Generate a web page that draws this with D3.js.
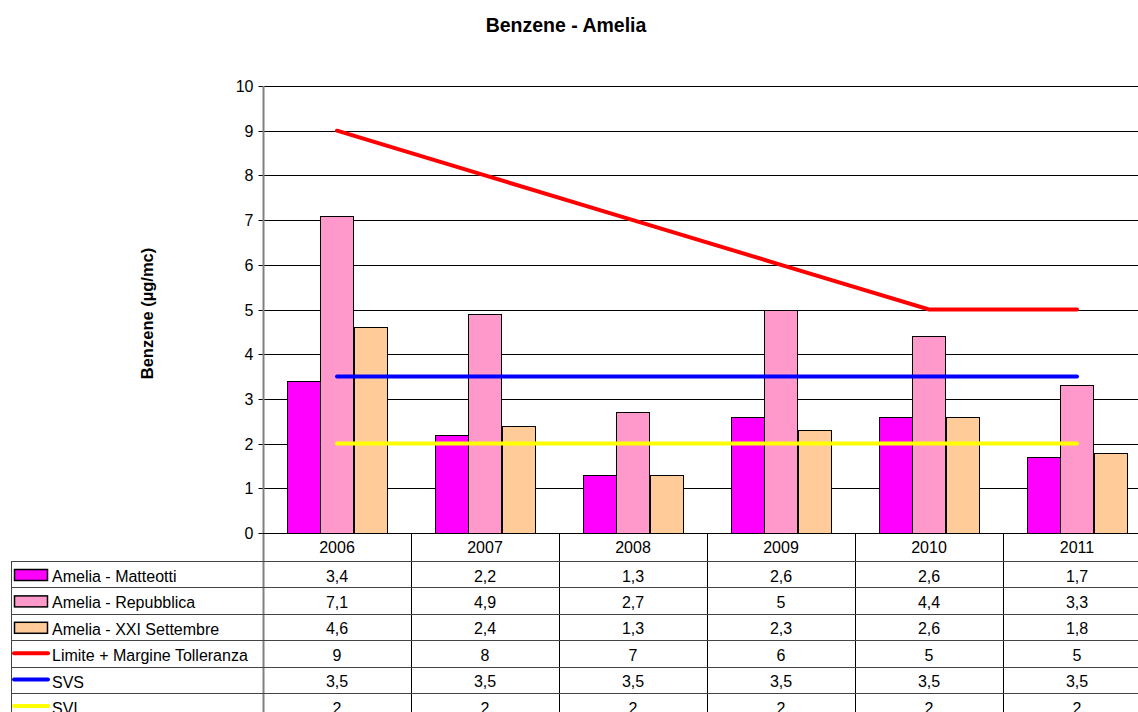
<!DOCTYPE html>
<meta charset="utf-8">
<style>
body { margin: 0; background: #fff; }
svg { font-family: "Liberation Sans", Arial, sans-serif; }
.tick text { font-size: 16px; fill: #000; }
</style>
<div id="chart"></div>
<script src="https://cdn.jsdelivr.net/npm/d3@7"></script>
<script>

var years = ["2006", "2007", "2008", "2009", "2010", "2011"];
var barSeries = ["Amelia - Matteotti", "Amelia - Repubblica", "Amelia - XXI Settembre"];
var matteotti = [3.4, 2.2, 1.3, 2.6, 2.6, 1.7];
var repubblica = [7.1, 4.9, 2.7, 5, 4.4, 3.3];
var settembre = [4.6, 2.4, 1.3, 2.3, 2.6, 1.8];
var lineSeries = ["Limite + Margine Tolleranza", "SVS", "SVI"];
var limite = [9, 8, 7, 6, 5, 5];
var svs = [3.5, 3.5, 3.5, 3.5, 3.5, 3.5];
var svi = [2, 2, 2, 2, 2, 2];
var yTicks = [0, 1, 2, 3, 4, 5, 6, 7, 8, 9, 10];

var barColors = ["#ff00ff", "#ff99cc", "#ffcc99"];
var lineColors = ["#ff0000", "#0000ff", "#ffff00"];

var rows = [
  {name: barSeries[0], values: matteotti, kind: "bar", color: barColors[0]},
  {name: barSeries[1], values: repubblica, kind: "bar", color: barColors[1]},
  {name: barSeries[2], values: settembre, kind: "bar", color: barColors[2]},
  {name: lineSeries[0], values: limite, kind: "line", color: lineColors[0]},
  {name: lineSeries[1], values: svs, kind: "line", color: lineColors[1]},
  {name: lineSeries[2], values: svi, kind: "line", color: lineColors[2]}
];

var W = 1138, H = 712;
var svg = d3.select("#chart").append("svg")
    .attr("width", W)
    .attr("height", H);

var pLeft = 263, pRight = 1151, pTop = 86, pBottom = 533;
var tableLeft = 11, headerH = 28, rowH = 26.4;

var x = d3.scaleBand().domain(years).range([pLeft, pRight]);
var x1 = d3.scaleBand().domain(barSeries).range([0, x.bandwidth()]).paddingOuter(0.74);
var y = d3.scaleLinear().domain([0, 10]).range([pBottom, pTop]);

// title
svg.append("text")
    .attr("x", 566).attr("y", 32)
    .attr("text-anchor", "middle")
    .style("font-weight", "bold").style("font-size", "19.5px")
    .text("Benzene - Amelia");

// y label
svg.append("text")
    .attr("transform", "translate(153," + ((pTop + pBottom) / 2 + 4) + ") rotate(-90)")
    .attr("text-anchor", "middle")
    .style("font-weight", "bold").style("font-size", "16.5px")
    .text("Benzene (\u00b5g/mc)");

// gridlines
svg.append("g").selectAll("line")
  .data(yTicks.slice(1))
  .enter().append("line")
    .attr("x1", pLeft).attr("x2", pRight)
    .attr("y1", function(d) { return Math.round(y(d)) + 0.5; })
    .attr("y2", function(d) { return Math.round(y(d)) + 0.5; })
    .attr("stroke", "#000").attr("stroke-width", 1);

// bars
var groups = svg.append("g").selectAll("g")
  .data(rows.filter(function(r) { return r.kind == "bar"; }))
  .enter().append("g")
    .attr("fill", function(d) { return d.color; });

groups.selectAll("rect")
  .data(function(d) { return d.values.map(function(v, i) { return {s: d.name, year: years[i], v: v}; }); })
  .enter().append("rect")
    .attr("x", function(d) { return Math.round(x(d.year) + x1(d.s)) + 0.5; })
    .attr("y", function(d) { return Math.round(y(d.v)) + 0.5; })
    .attr("width", Math.round(x1.bandwidth()))
    .attr("height", function(d) { return Math.round(y(0)) - Math.round(y(d.v)); })
    .attr("stroke", "#000").attr("stroke-width", 1);

// y axis
var yAxis = svg.append("g")
    .attr("transform", "translate(" + (pLeft + 0.5) + ",0)")
    .call(d3.axisLeft(y).tickValues(yTicks).tickSize(5).tickPadding(5).tickFormat(d3.format("d")));
yAxis.select(".domain").remove();
yAxis.selectAll(".tick line").attr("stroke", "#000");
yAxis.selectAll(".tick").attr("transform", function(d) { return "translate(0," + (Math.round(y(d)) + 0.5) + ")"; });
yAxis.selectAll(".tick text").style("font-family", "'Liberation Sans', Arial, sans-serif");

svg.append("line")
    .attr("x1", pLeft + 0.5).attr("x2", pLeft + 0.5)
    .attr("y1", pTop).attr("y2", H)
    .attr("stroke", "#808080").attr("stroke-width", 2);

// x axis baseline
svg.append("line")
    .attr("x1", pLeft).attr("x2", pRight)
    .attr("y1", pBottom + 0.5).attr("y2", pBottom + 0.5)
    .attr("stroke", "#000");

// lines
var line = d3.line()
    .x(function(d, i) { return x(years[i]) + x.bandwidth() / 2; })
    .y(function(d) { return y(d); });

svg.append("g").selectAll("path")
  .data(rows.filter(function(r) { return r.kind == "line"; }))
  .enter().append("path")
    .attr("d", function(d) { return line(d.values); })
    .attr("fill", "none")
    .attr("stroke", function(d) { return d.color; })
    .attr("stroke-width", 4)
    .attr("stroke-linecap", "round");

// data table
var table = svg.append("g");

// header cells
table.selectAll(".hdr")
  .data(years)
  .enter().append("text")
    .attr("x", function(d) { return x(d) + x.bandwidth() / 2; })
    .attr("y", pBottom + 20)
    .attr("text-anchor", "middle")
    .style("font-size", "16px")
    .text(function(d) { return d; });

// vertical lines
table.selectAll(".vline")
  .data(years.slice(1))
  .enter().append("line")
    .attr("x1", function(d) { return Math.round(x(d)) + 0.5; })
    .attr("x2", function(d) { return Math.round(x(d)) + 0.5; })
    .attr("y1", pBottom).attr("y2", H)
    .attr("stroke", "#000");

table.append("line")
    .attr("x1", tableLeft + 0.5).attr("x2", tableLeft + 0.5)
    .attr("y1", pBottom + headerH).attr("y2", H)
    .attr("stroke", "#444");

// horizontal lines
table.selectAll(".hline")
  .data(rows)
  .enter().append("line")
    .attr("x1", tableLeft).attr("x2", pRight)
    .attr("y1", function(d, i) { return Math.round(pBottom + headerH + i * rowH) + 0.5; })
    .attr("y2", function(d, i) { return Math.round(pBottom + headerH + i * rowH) + 0.5; })
    .attr("stroke", "#444");

var fmt = function(v) { return String(v).replace(".", ","); };

var row = table.selectAll(".row")
  .data(rows)
  .enter().append("g")
    .attr("transform", function(d, i) { return "translate(0," + (pBottom + headerH + i * rowH) + ")"; });

row.filter(function(d) { return d.kind == "bar"; })
  .append("rect")
    .attr("x", 14.5).attr("y", 8.5)
    .attr("width", 33).attr("height", 11)
    .attr("fill", function(d) { return d.color; })
    .attr("stroke", "#000").attr("stroke-width", 1.5);

row.filter(function(d) { return d.kind == "line"; })
  .append("line")
    .attr("x1", 14).attr("x2", 48)
    .attr("y1", 13).attr("y2", 13)
    .attr("stroke", function(d) { return d.color; })
    .attr("stroke-width", 4)
    .attr("stroke-linecap", "round");

row.append("text")
    .attr("x", 52).attr("y", 21)
    .style("font-size", "16px")
    .text(function(d) { return d.name; });

row.selectAll(".val")
  .data(function(d) { return d.values; })
  .enter().append("text")
    .attr("x", function(d, i) { return x(years[i]) + x.bandwidth() / 2; })
    .attr("y", 20.5)
    .attr("text-anchor", "middle")
    .style("font-size", "16px")
    .text(function(d) { return fmt(d); });

</script>
